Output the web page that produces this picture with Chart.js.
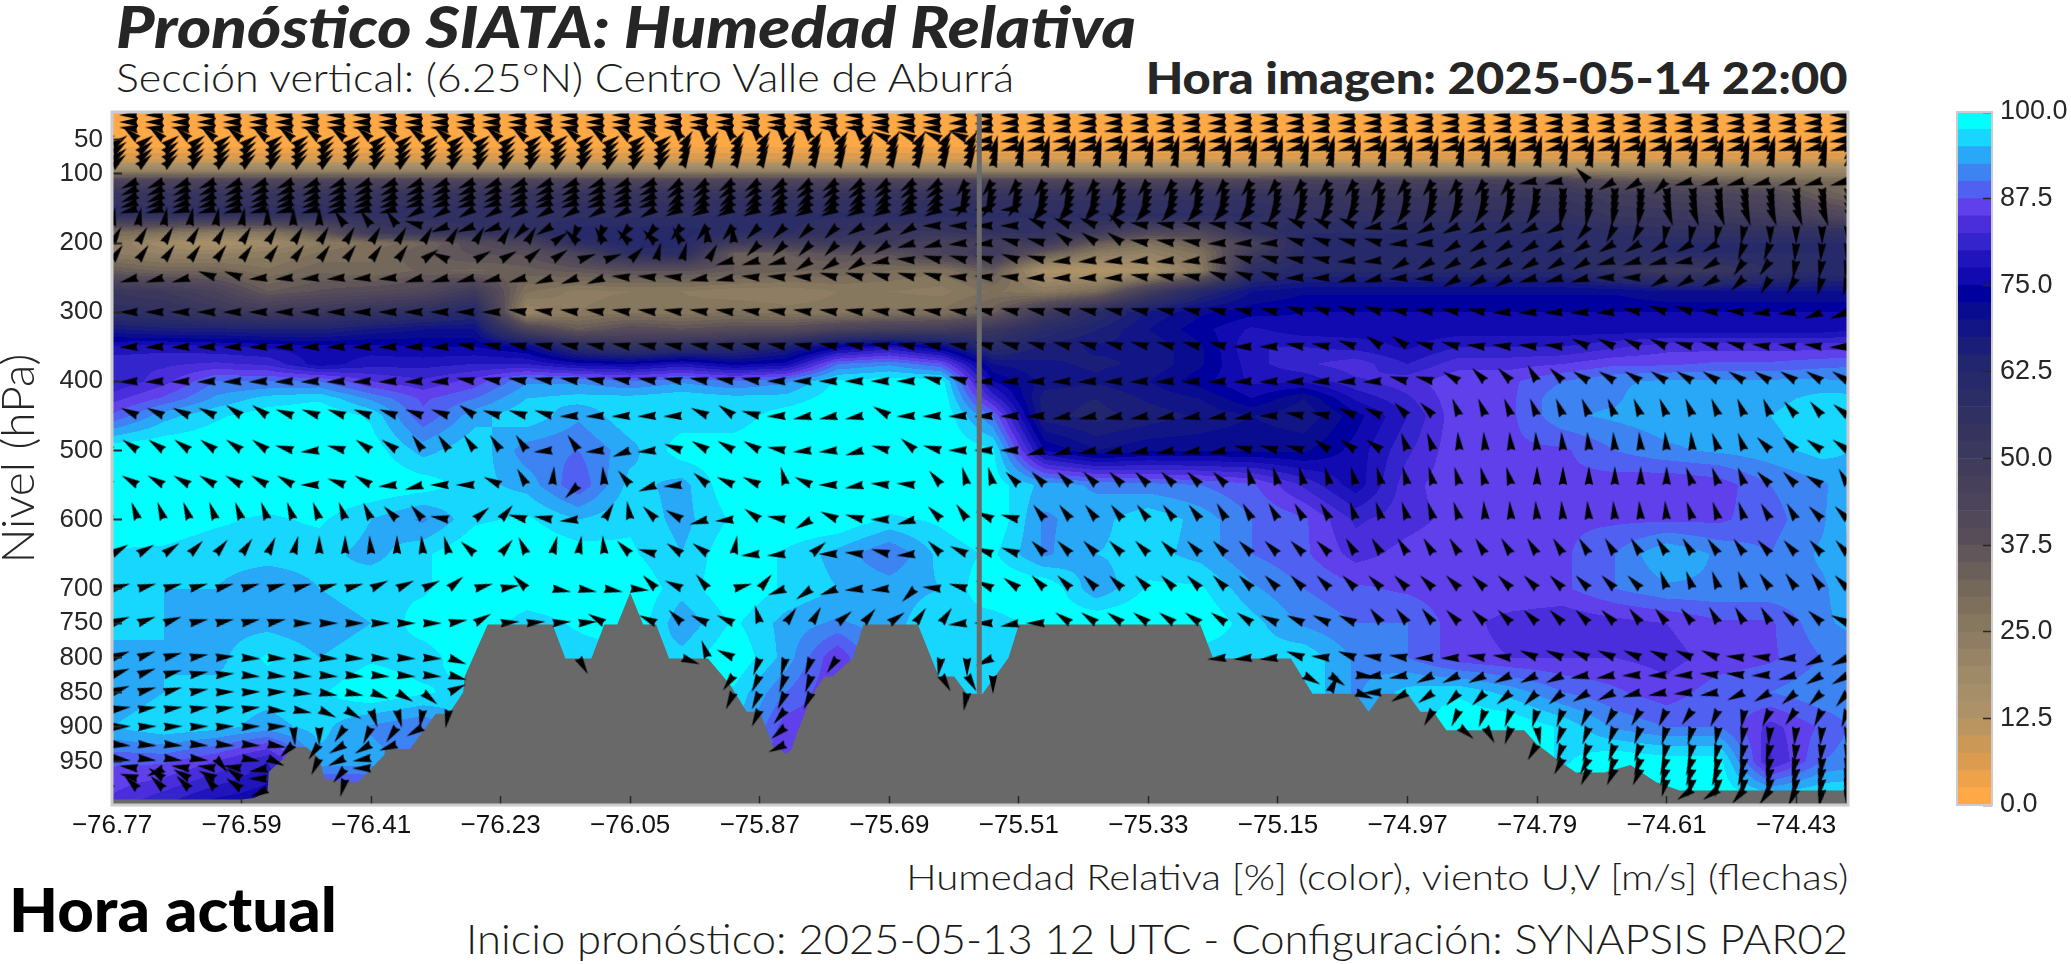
<!DOCTYPE html>
<html lang="es">
<head>
<meta charset="utf-8">
<title>Pronóstico SIATA: Humedad Relativa</title>
<script src="https://cdn.jsdelivr.net/npm/chart.js@4/dist/chart.umd.min.js"></script>
<style>
  body { margin: 0; background: #fff; width: 2071px; height: 964px; overflow: hidden; position: relative; font-family: Lato, sans-serif; }
  canvas { position: absolute; }
  #grafico { left: 0; top: 0; }
  #barra { left: 1950px; top: 100px; }
  .txt { position: absolute; white-space: nowrap; line-height: 1; color: #262626; }
  .der { transform-origin: right center; }
  .izq { transform-origin: left center; }
  #titulo { left: 116px; top: -2px; font-size: 57px; font-weight: 900; font-style: italic; }
  #subtitulo { left: 116px; top: 57px; font-size: 40px; font-weight: 300; color: #1c1c1c; }
  #horaImagen { right: 223px; top: 55px; font-size: 44px; font-weight: 900; }
  #variables { right: 223px; top: 858px; font-size: 36px; font-weight: 300; color: #1c1c1c; }
  #inicio { right: 223px; top: 918px; font-size: 41px; font-weight: 300; color: #1c1c1c; }
  #horaActual { left: 9px; top: 878px; font-size: 61px; font-weight: 900; color: #000; }
</style>
</head>
<body>
<div class="txt izq" id="titulo" data-ancho="1020">Pronóstico SIATA: Humedad Relativa</div>
<div class="txt izq" id="subtitulo" data-ancho="898">Sección vertical: (6.25°N) Centro Valle de Aburrá</div>
<div class="txt der" id="horaImagen" data-ancho="702">Hora imagen: 2025-05-14 22:00</div>
<canvas id="grafico" width="1851" height="850"></canvas>
<canvas id="barra" width="121" height="720"></canvas>
<div class="txt der" id="variables" data-ancho="942">Humedad Relativa [%] (color), viento U,V [m/s] (flechas)</div>
<div class="txt der" id="inicio" data-ancho="1382">Inicio pronóstico: 2025-05-13 12 UTC - Configuración: SYNAPSIS PAR02</div>
<div class="txt izq" id="horaActual" data-ancho="328">Hora actual</div>

<script>
const lonTicks = [-76.77, -76.59, -76.41, -76.23, -76.05, -75.87, -75.69, -75.51, -75.33, -75.15, -74.97, -74.79, -74.61, -74.43];
const levelTicks = [50, 100, 200, 300, 400, 500, 600, 700, 750, 800, 850, 900, 950];
const barTicks = [0, 12.5, 25, 37.5, 50, 62.5, 75, 87.5, 100];
const lonMarker = -75.565;

// Humedad relativa: lectura de la figura
const rhLons = [-76.77, -76.698, -76.626, -76.554, -76.482, -76.41, -76.338, -76.266, -76.194, -76.122, -76.05, -75.978, -75.906, -75.834, -75.762, -75.69, -75.618, -75.546, -75.474, -75.402, -75.33, -75.258, -75.186, -75.114, -75.042, -74.97, -74.898, -74.826, -74.754, -74.682, -74.61, -74.538, -74.466, -74.394, -74.322];
const rhLevels = [10, 60, 80, 95, 110, 130, 160, 185, 200, 215, 240, 270, 300, 325, 350, 375, 400, 425, 450, 500, 550, 600, 650, 700, 750, 800, 850, 900, 950, 1013];
const rhRows = [
  [1,1,1,1,1,1,1,1,1,1,1,1,1,1,1,1,1,1,1,1,1,1,1,1,1,1,1,1,1,1,1,1,1,1,1],
  [2,2,2,2,2,2,2,2,2,2,2,2,2,2,2,2,2,2,2,2,2,2,2,2,2,2,2,2,2,2,2,2,2,2,2],
  [8,8,8,8,8,8,8,8,8,8,8,8,8,8,8,8,8,8,8,8,8,8,8,8,8,8,8,8,8,8,8,8,8,8,8],
  [22,22,22,22,22,22,22,22,22,22,22,22,22,22,22,22,22,22,22,22,22,22,22,22,22,22,22,22,22,22,22,20,20,20,20],
  [44,44,44,44,44,44,44,44,44,44,44,44,44,44,44,44,44,44,44,44,44,44,44,46,46,46,46,46,46,38,36,34,32,30,30],
  [54,54,54,54,54,54,54,54,54,54,54,54,54,54,54,54,54,54,54,54,54,54,54,52,52,52,52,52,52,48,46,44,42,34,30],
  [56,56,56,56,56,56,56,56,56,57,57,57,58,58,58,58,58,58,58,58,58,58,58,56,56,56,56,56,56,52,52,50,48,44,38],
  [30,28,25,27,35,50,52,55,55,62,62,62,58,58,55,52,52,55,55,50,42,42,55,60,60,60,60,60,60,58,56,56,56,56,56],
  [25,18,15,18,25,28,32,40,45,58,62,60,50,48,50,50,45,48,50,35,28,34,45,60,60,60,60,60,60,58,60,60,60,60,60],
  [25,22,22,24,28,30,35,38,38,45,58,60,35,35,38,38,45,50,35,25,22,28,50,60,60,60,60,60,60,60,60,60,60,60,60],
  [35,32,32,28,32,30,33,32,34,36,38,38,35,33,32,30,28,35,14,12,15,25,58,62,62,62,62,62,62,55,50,52,58,60,60],
  [52,50,45,35,38,40,42,50,28,24,25,25,23,23,25,25,24,28,25,30,48,62,70,72,72,72,72,72,72,72,70,70,70,70,70],
  [57,56,52,50,52,55,58,62,20,25,27,26,28,26,26,28,28,34,50,60,68,72,74,75,75,75,75,75,75,75,75,75,75,75,75],
  [68,66,66,65,65,68,70,70,45,35,40,38,40,40,45,47,48,52,60,65,70,74,78,76,76,76,76,76,76,76,76,76,76,76,78],
  [78,79,78,77,76,76,75,75,72,60,55,58,60,65,74,78,72,60,66,68,68,72,80,80,79,77,80,80,80,82,84,84,84,84,84],
  [82,82,83,82,76,79,79,80,80,76,75,78,74,76,90,92,88,70,68,67,68,72,79,82,84,80,84,84,85,87,87,88,88,89,90],
  [80,84,90,90,90,85,83,86,92,92,90,92,90,92,98,99,99,75,69,68,70,74,78,78,82,84,87,87,90,92,93,93,93,93,92],
  [84,88,93,96,97,92,87,90,95,96,96,97,96,96,99,100,100,82,66,65,68,70,75,70,78,82,87,87,92,92,95,94,94,96,96],
  [88,94,97,99,100,97,88,94,97,93,97,96,96,99,100,100,100,90,66,64,66,68,70,68,74,80,87,87,92,93,94,94,95,97,96],
  [100,100,100,100,99,99,94,97,91,90,94,99,99,100,100,100,100,98,75,70,72,72,72,72,76,82,87,87,87,90,92,93,94,96,94],
  [100,100,100,100,100,100,99,96,94,88,96,94,100,100,100,100,100,99,94,92,91,90,88,82,76,84,87,87,87,86,85,86,90,92,96],
  [100,99,98,97,98,95,92,97,98,95,97,94,98,100,100,97,98,100,92,94,97,94,90,88,82,84,86,87,87,87,87,87,89,92,99],
  [97,97,96,96,96,94,97,100,100,99,98,95,100,97,94,90,96,98,92,95,96,94,90,88,84,86,87,87,87,90,95,92,90,93,96],
  [96,95,95,93,95,97,97,100,100,100,100,96,100,97,95,94,95,100,100,93,98,98,93,90,88,87,86,87,87,90,92,92,92,92,96],
  [96,95,94,94,93,95,99,100,96,98,100,93,98,94,92,94,97,96,99,100,100,100,96,92,90,90,86,84,83,84,85,87,87,92,94],
  [94,95,94,98,95,97,96,100,96,96,96,96,100,94,85,95,97,96,97,96,96,96,96,97,92,90,86,85,85,85,84,86,87,90,92],
  [93,95,96,96,97,100,98,96,96,96,96,96,97,90,85,96,96,96,96,96,96,96,96,97,92,96,97,94,90,88,86,89,90,92,92],
  [95,97,96,94,96,92,90,96,96,96,96,96,96,86,86,96,96,96,96,96,96,96,96,97,96,96,100,100,97,92,90,90,84,88,92],
  [88,88,85,80,94,94,90,90,90,90,90,90,90,85,85,96,96,96,96,96,96,96,96,97,96,96,100,100,97,100,99,99,82,90,92],
  [84,80,76,75,80,80,80,80,80,80,80,80,80,80,80,96,96,96,96,96,96,96,96,97,96,96,100,100,100,100,100,100,100,100,100]
];

// Bandas de color de la barra, de 0 a 97.5 cada 2.5
const barColors = ['#ffa846','#eea24a','#dc9c4f','#cb9855','#bb955f','#ad9268','#a68e69','#9f8a68','#978466','#8e7d62',
  '#86775f','#7d6f5c','#74685a','#6b5f59','#615659','#574d59','#514959','#4b445a','#46405b','#413c5c',
  '#3b385d','#36345f','#303062','#2b2d66','#262a6a','#21266f','#1a1e78','#121585','#0a0c90','#00009f',
  '#110ab0','#2015bc','#3424cc','#4a2edb','#6040ea','#5060f0','#3d83f2','#2aa8f8','#17d7ff','#00ffff'];

// Terreno (lon, hPa)
const terrainLons = [-76.77, -76.59, -76.572, -76.554, -76.552, -76.532, -76.518, -76.5, -76.482, -76.475, -76.446, -76.428, -76.392, -76.39, -76.356, -76.32, -76.302, -76.282, -76.28, -76.248, -76.158, -76.14, -76.104, -76.086, -76.068, -76.05, -76.032, -76.014, -75.996, -75.942, -75.912, -75.888, -75.87, -75.852, -75.834, -75.8262, -75.816, -75.798, -75.78, -75.769, -75.7404, -75.726, -75.6504, -75.6252, -75.6216, -75.6, -75.582, -75.5604, -75.5244, -75.51, -75.258, -75.24, -75.132, -75.102, -75.078, -75.042, -75.024, -75.006, -74.97, -74.952, -74.934, -74.916, -74.808, -74.79, -74.7612, -74.736, -74.6964, -74.6604, -74.6244, -74.592, -74.322];
const terrainLevels = [1005, 1005, 1003, 994, 965, 946, 929, 929, 945, 975, 980, 980, 941, 932, 932, 881, 881, 850, 827, 752, 752, 801, 801, 752, 752, 706, 752, 752, 801, 801, 838, 878, 878, 927, 939, 933, 903, 855, 827, 827, 800, 752, 752, 817, 827, 827, 852, 852, 800, 752, 752, 801, 801, 852, 852, 852, 878, 852, 852, 878, 878, 905, 905, 925, 948, 966, 966, 955, 980, 992, 992];

// Viento: columnas y niveles de las flechas
const windLons = [-76.77, -76.734, -76.698, -76.662, -76.626, -76.59, -76.554, -76.518, -76.482, -76.446, -76.41, -76.374, -76.338, -76.302, -76.266, -76.23, -76.194, -76.158, -76.122, -76.086, -76.05, -76.014, -75.978, -75.942, -75.906, -75.87, -75.834, -75.798, -75.762, -75.726, -75.69, -75.654, -75.618, -75.582, -75.546, -75.51, -75.474, -75.438, -75.402, -75.366, -75.33, -75.294, -75.258, -75.222, -75.186, -75.15, -75.114, -75.078, -75.042, -75.006, -74.97, -74.934, -74.898, -74.862, -74.826, -74.79, -74.754, -74.718, -74.682, -74.646, -74.61, -74.574, -74.538, -74.502, -74.466, -74.43, -74.394, -74.358];
const windLevels = [15, 25, 35, 50, 60, 70, 80, 90, 110, 120, 130, 140, 150, 175, 200, 225, 250, 300, 350, 400, 450, 500, 550, 600, 650, 700, 750, 800, 825, 850, 875, 900, 925, 945, 960, 975, 990];
// Direccion en grados en pantalla (0 = este, sentido horario), como [angulo, columnas seguidas]
const windRows = [
  [[180,68]],
  [[180,33],[175,35]],
  [[185,33],[172,35]],
  [[220,22],[235,8],[205,4],[172,34]],
  [[325,22],[305,12],[165,34]],
  [[322,22],[300,12],[285,34]],
  [[322,22],[300,12],[285,34]],
  [[318,22],[295,12],[282,34]],
  [[155,22],[145,11],[125,22],[170,2],[225,1],[150,2],[135,1],[165,7]],
  [[155,22],[145,11],[110,12],[100,11],[90,4],[82,8]],
  [[155,22],[140,11],[110,12],[102,11],[92,4],[80,8]],
  [[160,22],[145,11],[125,12],[115,11],[95,4],[75,8]],
  [[165,12],[150,10],[155,11],[175,3],[135,9],[125,11],[100,4],[70,8]],
  [[280,6],[270,3],[235,3],[195,1],[160,3],[135,1],[150,1],[112,2],[128,5],[135,4],[150,3],[180,4],[205,3],[220,1],[190,6],[205,3],[170,2],[155,6],[130,1],[117,2],[100,4],[90,4]],
  [[300,17],[325,1],[225,1],[240,1],[225,2],[240,1],[265,2],[135,5],[145,1],[165,2],[175,2],[195,2],[215,3],[190,3],[178,3],[198,2],[195,2],[175,2],[150,11],[110,2],[95,3]],
  [[305,12],[325,1],[205,1],[330,2],[320,1],[325,1],[340,2],[315,1],[285,2],[300,1],[165,3],[148,3],[170,1],[185,1],[195,3],[200,1],[195,1],[175,7],[195,2],[190,2],[175,2],[150,8],[165,3],[170,1],[150,1],[125,2],[100,3]],
  [[165,4],[200,2],[175,6],[165,5],[160,3],[185,3],[170,2],[185,3],[195,5],[185,3],[178,4],[190,3],[200,3],[178,2],[165,2],[175,2],[150,3],[165,3],[180,2],[150,3],[135,1],[120,2],[105,2]],
  [[180,16],[188,18],[192,12],[198,4],[190,4],[178,5],[192,1],[200,2],[185,2],[175,2],[160,2]],
  [[178,14],[190,20],[195,10],[180,2],[190,2],[200,1],[215,2],[195,2],[186,4],[205,4],[195,3],[188,3],[178,1]],
  [[178,14],[190,12],[180,6],[195,2],[178,16],[195,2],[210,1],[225,2],[240,1],[225,1],[212,11]],
  [[205,5],[215,2],[200,7],[215,1],[197,3],[178,5],[205,1],[215,1],[195,1],[178,1],[170,3],[210,1],[178,6],[170,8],[180,1],[190,2],[205,2],[225,2],[248,13],[230,2],[218,1]],
  [[215,7],[195,1],[175,1],[195,1],[215,2],[235,5],[175,1],[235,1],[175,1],[160,1],[175,1],[200,1],[210,3],[190,1],[175,2],[165,1],[195,1],[220,1],[195,1],[180,3],[165,2],[170,6],[195,3],[215,3],[250,2],[265,10],[250,2],[225,2],[215,2]],
  [[210,8],[180,1],[200,1],[210,1],[175,1],[165,1],[180,2],[205,1],[240,1],[275,1],[135,1],[265,1],[230,1],[160,1],[175,1],[220,1],[205,2],[255,1],[205,1],[180,1],[170,1],[185,2],[230,1],[255,2],[225,9],[255,11],[270,6],[250,3],[225,2],[210,1],[240,1]],
  [[210,1],[250,9],[245,1],[225,1],[230,1],[190,1],[320,1],[310,1],[195,1],[190,1],[175,1],[300,1],[260,1],[225,1],[210,1],[165,1],[175,1],[215,1],[190,1],[150,1],[205,1],[195,1],[180,1],[165,1],[225,1],[235,1],[205,1],[195,1],[232,7],[240,5],[252,5],[265,8],[252,3],[240,2],[225,2]],
  [[330,2],[325,1],[315,1],[310,1],[305,1],[295,1],[285,1],[270,2],[265,1],[270,1],[265,1],[255,1],[222,1],[310,1],[245,1],[285,1],[280,1],[265,1],[225,1],[195,1],[215,1],[215,1],[280,1],[175,2],[320,1],[180,1],[185,1],[195,1],[175,1],[225,1],[205,1],[200,2],[225,12],[238,14],[235,2],[228,4]],
  [[345,10],[335,3],[320,1],[345,1],[350,1],[225,1],[10,3],[5,1],[225,1],[205,1],[230,1],[345,1],[310,1],[160,1],[145,1],[160,1],[175,2],[135,1],[185,1],[195,1],[205,1],[215,1],[225,24],[250,4],[235,3],[225,1]],
  [[340,3],[348,4],[0,6],[350,1],[330,1],[355,4],[210,1],[205,2],[225,1],[205,2],[255,1],[305,1],[300,1],[320,1],[310,1],[325,1],[305,2],[175,1],[180,1],[170,1],[180,1],[215,8],[205,4],[232,3],[225,7],[232,3],[240,3],[222,2],[205,1]],
  [[340,2],[345,1],[350,1],[355,1],[3,8],[20,1],[325,1],[10,3],[60,1],[10,3],[20,1],[250,1],[205,1],[110,1],[105,1],[110,1],[125,1],[110,3],[100,1],[90,1],[155,1],[120,1],[175,9],[175,1],[200,1],[185,1],[200,1],[188,2],[178,2],[188,2],[203,8],[185,2],[175,1],[155,2]],
  [[340,2],[345,1],[350,1],[355,1],[5,8],[15,1],[355,9],[125,2],[115,1],[110,3],[110,3],[60,2],[90,1],[100,11],[30,1],[35,1],[5,1],[170,2],[155,6],[170,2],[178,3],[185,2],[178,1],[165,1],[150,2]],
  [[340,1],[345,2],[350,1],[358,3],[5,1],[10,2],[20,1],[30,1],[40,1],[335,1],[355,10],[115,5],[100,18],[295,1],[20,1],[178,1],[150,1],[145,1],[135,2],[140,1],[135,1],[140,1],[150,1],[155,1],[165,1],[170,1],[175,1],[170,1],[155,1],[150,1],[140,1],[135,1],[130,1]],
  [[352,6],[5,1],[10,1],[25,1],[30,1],[70,1],[75,1],[100,12],[125,1],[115,1],[130,1],[115,1],[100,23],[120,1],[115,1],[110,2],[105,1],[110,1],[115,1],[120,2],[115,1],[125,1],[115,1],[100,1],[115,1],[125,1],[115,1],[110,1]],
  [[358,7],[85,1],[90,1],[125,1],[115,1],[125,1],[150,1],[100,12],[90,1],[140,1],[100,25],[40,1],[60,1],[110,1],[80,1],[110,4],[105,2],[100,2],[96,4]],
  [[5,6],[10,1],[135,1],[125,1],[150,2],[160,1],[100,13],[100,1],[155,1],[100,28],[120,1],[110,4],[103,5],[96,3]],
  [[8,4],[50,1],[10,1],[25,1],[60,1],[115,1],[155,1],[170,1],[100,15],[85,1],[100,29],[118,2],[110,4],[103,4],[95,2]],
  [[188,2],[155,1],[188,3],[170,1],[100,1],[105,1],[130,1],[180,1],[100,46],[115,3],[110,4],[100,4]],
  [[195,2],[215,1],[210,1],[205,1],[215,1],[180,1],[100,2],[105,1],[140,1],[100,48],[105,3],[100,6]],
  [[225,4],[230,1],[215,1],[155,1],[100,54],[145,2],[130,1],[125,1],[115,1],[100,1],[95,1]]
];

function terrenoEn(lon) {
  for (let i = 1; i < terrainLons.length; i++) {
    if (lon <= terrainLons[i]) {
      const t = (lon - terrainLons[i - 1]) / (terrainLons[i] - terrainLons[i - 1]);
      return terrainLevels[i - 1] + t * (terrainLevels[i] - terrainLevels[i - 1]);
    }
  }
  return terrainLevels[terrainLevels.length - 1];
}

// Expande las filas y quita lo que cae bajo el terreno
function puntosViento() {
  const puntos = [];
  windRows.forEach((fila, r) => {
    let col = 0;
    fila.forEach(([angulo, n]) => {
      for (let i = 0; i < n && col < windLons.length; i++, col++) {
        if (windLevels[r] <= terrenoEn(windLons[col]) + 2) {
          puntos.push({ x: windLons[col], y: windLevels[r], a: angulo });
        }
      }
    });
  });
  return puntos;
}

// Flecha tipo cuña: la base queda en el punto y la punta hacia +x
function crearFlecha() {
  const largo = 19, base = 8.5;
  const c = document.createElement('canvas');
  c.width = 2 * largo + 4;
  c.height = 2 * largo + 4;
  const g = c.getContext('2d');
  const cx = c.width / 2, cy = c.height / 2;
  g.fillStyle = '#000';
  g.beginPath();
  g.moveTo(cx + largo, cy);
  g.lineTo(cx, cy - base / 2);
  g.lineTo(cx + 1.5, cy);
  g.lineTo(cx, cy + base / 2);
  g.closePath();
  g.fill();
  return c;
}

function indiceEn(lista, v) {
  let i = 0;
  while (i < lista.length - 2 && v > lista[i + 1]) i++;
  return i;
}

// Pinta el campo de humedad por bandas, como un contourf
const campoHumedad = {
  id: 'campoHumedad',
  beforeDatasetsDraw(chart) {
    const { ctx, chartArea: a, scales } = chart;
    const w = Math.round(a.right - a.left), h = Math.round(a.bottom - a.top);
    const buf = document.createElement('canvas');
    buf.width = w;
    buf.height = h;
    const g = buf.getContext('2d');
    const img = g.createImageData(w, h);
    const rgb = barColors.map(c => [1, 3, 5].map(i => parseInt(c.slice(i, i + 2), 16)));
    const xs = [];
    for (let i = 0; i < w; i++) {
      const lon = scales.x.getValueForPixel(a.left + i + 0.5);
      const k = indiceEn(rhLons, lon);
      xs.push([k, (lon - rhLons[k]) / (rhLons[k + 1] - rhLons[k])]);
    }
    let p = 0;
    for (let j = 0; j < h; j++) {
      const nivel = scales.y.getValueForPixel(a.top + j + 0.5);
      const r = indiceEn(rhLevels, nivel);
      const tr = Math.max(0, Math.min(1, (nivel - rhLevels[r]) / (rhLevels[r + 1] - rhLevels[r])));
      const f0 = rhRows[r], f1 = rhRows[r + 1];
      for (let i = 0; i < w; i++) {
        const [k, tx] = xs[i];
        const v0 = f0[k] + tx * (f0[k + 1] - f0[k]);
        const v1 = f1[k] + tx * (f1[k + 1] - f1[k]);
        const v = v0 + tr * (v1 - v0);
        const c = rgb[Math.max(0, Math.min(39, Math.floor(v / 2.5)))];
        img.data[p++] = c[0];
        img.data[p++] = c[1];
        img.data[p++] = c[2];
        img.data[p++] = 255;
      }
    }
    g.putImageData(img, 0, 0);
    ctx.drawImage(buf, a.left, a.top);
  },
  afterDraw(chart) {
    const { ctx, chartArea: a } = chart;
    ctx.save();
    ctx.strokeStyle = '#cccccc';
    ctx.lineWidth = 3;
    ctx.strokeRect(a.left, a.top, a.right - a.left, a.bottom - a.top);
    ctx.restore();
  }
};

// El eje no debe reservar sitio para media etiqueta en los extremos
function sinRelleno(s) {
  s.paddingLeft = 0;
  s.paddingRight = 0;
  s.paddingTop = 0;
  s.paddingBottom = 0;
}

new Chart(document.getElementById('grafico'), {
  type: 'scatter',
  data: {
    datasets: [
      {
        data: [{ x: lonMarker, y: 10 }, { x: lonMarker, y: 852 }],
        showLine: true,
        borderColor: '#6b6b6b',
        borderWidth: 5,
        pointRadius: 0
      },
      {
        data: puntosViento(),
        showLine: false,
        pointStyle: crearFlecha(),
        pointRadius: 10,
        rotation: c => (c.raw ? c.raw.a : 0)
      },
      {
        data: terrainLons.map((lon, i) => ({ x: lon, y: terrainLevels[i] })),
        showLine: true,
        borderWidth: 0,
        borderColor: '#696969',
        backgroundColor: '#696969',
        pointRadius: 0,
        fill: { value: 1013 }
      }
    ]
  },
  options: {
    responsive: false,
    animation: false,
    devicePixelRatio: 1,
    events: [],
    layout: { autoPadding: false, padding: { left: 0, top: 112, right: 3, bottom: 0 } },
    plugins: { legend: { display: false }, tooltip: { enabled: false } },
    scales: {
      x: {
        type: 'linear',
        min: -76.77,
        max: -74.358,
        afterFit: s => { s.height = 45; sinRelleno(s); },
        afterBuildTicks: s => { s.ticks = lonTicks.map(v => ({ value: v })); },
        border: { display: false },
        grid: { drawOnChartArea: false, tickLength: -9, tickColor: '#262626', tickWidth: 1.5, z: 1 },
        ticks: {
          padding: 14,
          maxRotation: 0,
          autoSkip: false,
          color: '#111',
          font: { family: 'Liberation Sans', size: 26 },
          callback: v => '\u2212' + Math.abs(v).toFixed(2)
        }
      },
      y: {
        type: 'linear',
        reverse: true,
        min: 10.4,
        max: 1013,
        afterFit: s => { s.width = 112; sinRelleno(s); },
        afterBuildTicks: s => { s.ticks = levelTicks.map(v => ({ value: v })); },
        border: { display: false },
        grid: { drawOnChartArea: false, tickLength: -10, tickColor: '#262626', tickWidth: 2, z: 1 },
        ticks: {
          padding: 19,
          autoSkip: false,
          color: '#262626',
          font: { family: 'Liberation Sans', size: 26 },
          callback: v => String(v)
        },
        title: {
          display: true,
          text: 'Nivel (hPa)',
          color: '#262626',
          padding: { top: -8, bottom: 0 },
          font: { family: 'Lato', size: 46, weight: '300' }
        }
      }
    }
  },
  plugins: [campoHumedad]
});

new Chart(document.getElementById('barra'), {
  type: 'bar',
  data: {
    labels: ['%'],
    datasets: barColors.map((color, i) => ({
      data: [[i * 2.5, (i + 1) * 2.5]],
      backgroundColor: color,
      barPercentage: 1,
      categoryPercentage: 1,
      grouped: false
    }))
  },
  options: {
    responsive: false,
    animation: false,
    devicePixelRatio: 1,
    events: [],
    layout: { autoPadding: false, padding: { left: 7, top: 12, right: 0, bottom: 15 } },
    plugins: { legend: { display: false }, tooltip: { enabled: false } },
    scales: {
      x: { display: false },
      y: {
        position: 'right',
        min: 0,
        max: 100,
        afterFit: s => { s.width = 79; sinRelleno(s); },
        afterBuildTicks: s => { s.ticks = barTicks.map(v => ({ value: v })); },
        border: { display: false },
        grid: { drawOnChartArea: false, tickLength: -9, tickColor: '#262626', tickWidth: 1.5, z: 1 },
        ticks: {
          padding: 17,
          autoSkip: false,
          color: '#262626',
          font: { family: 'Liberation Sans', size: 27 },
          callback: v => v.toFixed(1)
        }
      }
    }
  },
  plugins: [{
    id: 'marcoBarra',
    afterDraw(chart) {
      const { ctx, chartArea: a } = chart;
      ctx.save();
      ctx.strokeStyle = '#cccccc';
      ctx.lineWidth = 2;
      ctx.strokeRect(a.left, a.top, a.right - a.left, a.bottom - a.top);
      ctx.restore();
    }
  }]
});

// Ajusta cada texto al ancho que tiene en la figura
document.querySelectorAll('.txt').forEach(el => {
  el.style.transform = 'scaleX(' + (el.dataset.ancho / el.getBoundingClientRect().width) + ')';
});
</script>
</body>
</html>
